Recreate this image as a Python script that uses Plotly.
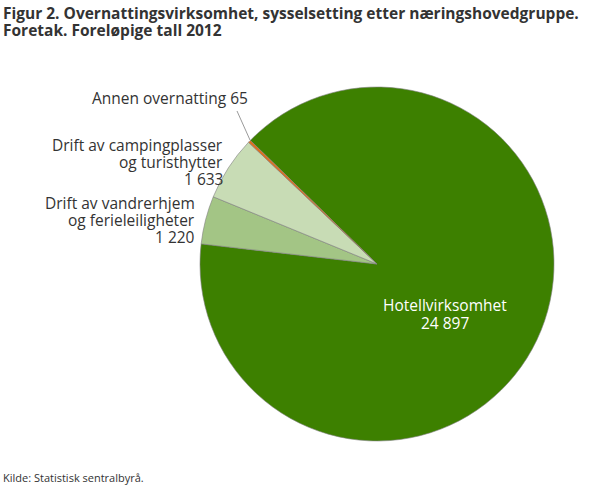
import plotly.graph_objects as go

labels = ["Hotellvirksomhet", "Drift av vandrerhjem og ferieleiligheter",
          "Drift av campingplasser og turisthytter", "Annen overnatting"]
values = [24897, 1220, 1633, 65]
colors = ["#3d8000", "#a3c585", "#c8dcb5", "#e0701e"]
value_text = ["24 897", "1 220", "1 633", "65"]
title_lines = ["Figur 2. Overnattingsvirksomhet, sysselsetting etter næringshovedgruppe.",
               "Foretak. Foreløpige tall 2012"]
source = "Kilde: Statistisk sentralbyrå."

W, H = 610, 488
cx, cy, r = 377, 264, 177

def px(x):
    return x / W

def py(y):
    return 1 - y / H

fig = go.Figure(go.Pie(
    labels=labels, values=values, sort=False, direction="clockwise",
    rotation=-45.7, marker=dict(colors=colors, line=dict(color="#7f7f7f", width=0.6)),
    textinfo="none", hoverinfo="label+value", showlegend=False,
    domain=dict(x=[px(cx - r), px(cx + r)], y=[py(cy + r), py(cy - r)]),
))

FONT = "Open Sans"
lab = dict(family=FONT, size=15.5, color="#333333")
white = dict(family=FONT, size=15.5, color="white")
ann = []

def add(x, y, text, font, xanchor):
    ann.append(dict(x=px(x), y=py(y), xref="paper", yref="paper", text=text,
                    showarrow=False, xanchor=xanchor, yanchor="middle", font=font,
                    borderpad=0))

add(445, 305, labels[0], white, "center")
add(445, 323, value_text[0], white, "center")

add(196, 203, "Drift av vandrerhjem", lab, "right")
add(196, 220, "og ferieleiligheter", lab, "right")
add(196, 237, value_text[1], lab, "right")

add(224, 145, "Drift av campingplasser", lab, "right")
add(224, 162, "og turisthytter", lab, "right")
add(224, 179, value_text[2], lab, "right")

add(249, 98, f"{labels[3]} {value_text[3]}", lab, "right")

tfont = dict(family=FONT, size=15.5, color="#333333")
add(2, 13, f"<b>{title_lines[0]}</b>", tfont, "left")
add(2, 30, f"<b>{title_lines[1]}</b>", tfont, "left")

add(2, 477, source, dict(family=FONT, size=11, color="#333333"), "left")

fig.update_layout(
    width=W, height=H, margin=dict(l=0, r=0, t=0, b=0),
    paper_bgcolor="white", plot_bgcolor="white",
    annotations=ann,
    shapes=[dict(type="line", xref="paper", yref="paper", x0=px(237), y0=py(111),
                 x1=px(250), y1=py(140), line=dict(color="#808080", width=0.8))],
)

fig.write_html("out.html", config={"displayModeBar": False},
               post_script="document.body.style.margin='0px';")
